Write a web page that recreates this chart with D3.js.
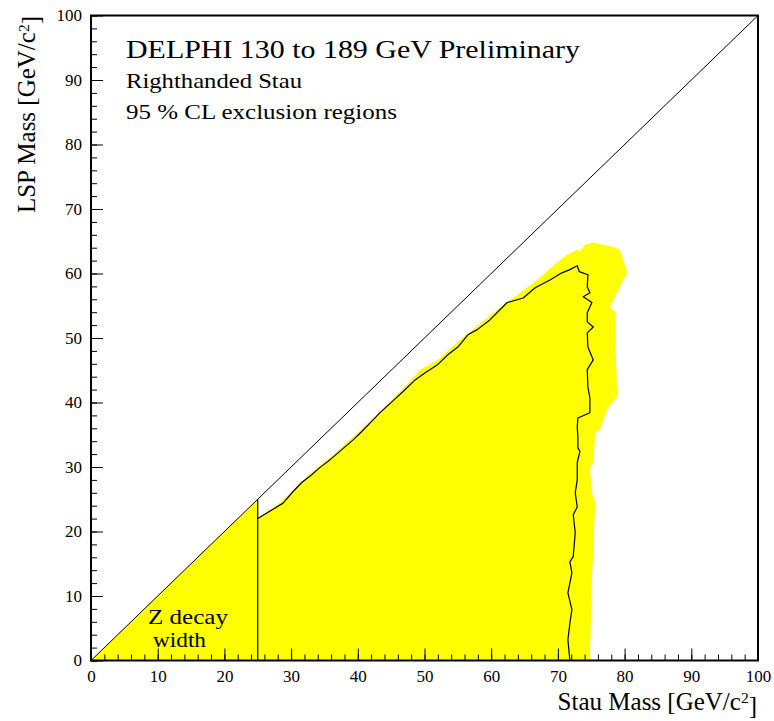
<!DOCTYPE html>
<html>
<head>
<meta charset="utf-8">
<script src="https://cdn.jsdelivr.net/npm/d3@7"></script>
<style>
  html, body { margin: 0; padding: 0; background: #fff; }
  svg { display: block; }
  text { font-family: "Liberation Serif", "DejaVu Serif", serif; fill: #000; }
</style>
</head>
<body>
<svg id="chart" width="774" height="721"></svg>
<script>
// Axis ticks
const xMajorTicks = [0, 10, 20, 30, 40, 50, 60, 70, 80, 90, 100];
const yMajorTicks = [0, 10, 20, 30, 40, 50, 60, 70, 80, 90, 100];
const minorTicks = d3.range(0, 101, 2);

// Z decay width excluded triangle (stau mass, LSP mass)
const zWidthStau = [0, 25, 25];
const zWidthLsp  = [0, 25, 0];

// Outer excluded region (filled)
const regionStau = [25.0, 25.0, 28.5, 30.5, 33.0, 36.0, 37.8, 40.5, 43.5, 46.5, 49.5, 52.0, 55.3, 60.3, 66.9, 70.3, 71.4, 72.9, 73.3, 74.1, 75.3, 78.3, 79.3, 80.4, 79.6, 78.3, 77.8, 78.6, 78.6, 78.9, 77.5, 76.8, 76.3, 75.6, 75.3, 74.8, 75.1, 75.6, 75.3, 75.1, 74.8];
const regionLsp  = [0.0, 22.0, 24.6, 26.6, 29.2, 31.6, 33.3, 35.8, 38.8, 41.9, 45.2, 46.6, 49.7, 53.9, 59.0, 62.1, 62.9, 63.7, 63.4, 64.5, 64.8, 64.1, 63.7, 60.1, 58.6, 55.9, 54.8, 53.9, 49.7, 40.9, 39.2, 37.3, 35.8, 35.3, 30.7, 29.6, 26.0, 24.5, 17.6, 12.5, 0.0];

// 95% CL exclusion contour
const contourStau = [25.0, 28.8, 30.3, 31.6, 33.1, 34.3, 35.8, 37.6, 39.3, 40.6, 42.3, 43.3, 45.1, 46.8, 48.6, 50.1, 51.9, 53.5, 55.0, 56.5, 57.9, 59.8, 62.4, 64.8, 66.6, 68.8, 70.6, 71.8, 72.9, 73.2, 74.5, 74.4, 74.8, 73.8, 75.1, 74.4, 74.4, 75.3, 74.4, 74.5, 75.3, 74.4, 74.5, 74.8, 74.8, 73.0, 72.9, 73.0, 73.0, 73.3, 72.9, 72.9, 72.6, 72.9, 72.3, 72.6, 72.3, 71.8, 72.1, 71.5, 72.1, 71.8, 71.5, 71.8];
const contourLsp  = [22.0, 24.4, 26.2, 27.6, 28.8, 29.9, 31.1, 32.7, 34.2, 35.5, 37.3, 38.4, 40.1, 41.7, 43.5, 44.6, 45.8, 47.4, 48.6, 50.5, 51.3, 52.8, 55.5, 56.2, 57.8, 59.0, 60.1, 60.6, 61.2, 60.3, 59.8, 57.9, 57.0, 56.4, 55.5, 53.9, 52.5, 51.7, 50.8, 48.6, 46.6, 45.1, 42.4, 40.7, 38.4, 37.6, 36.2, 34.7, 33.0, 32.4, 30.7, 28.0, 26.0, 23.8, 22.6, 19.8, 16.1, 15.3, 13.6, 10.5, 7.9, 5.8, 3.2, 0.0];

const svg = d3.select("#chart");
const x = d3.scaleLinear().domain([0, 100]).range([91, 758]);
const y = d3.scaleLinear().domain([0, 100]).range([660.5, 15.5]);

const line = d3.line().x(d => x(d[0])).y(d => y(d[1]));
const zip = (a, b) => a.map((v, i) => [v, b[i]]);

const plot = svg.append("g");

// Filled exclusion regions
plot.append("path")
  .attr("d", line(zip(zWidthStau, zWidthLsp)) + "Z")
  .attr("fill", "#ffff00");
plot.append("path")
  .attr("d", line(zip(regionStau, regionLsp)) + "Z")
  .attr("fill", "#ffff00");

// Kinematic limit m_LSP = m_stau
plot.append("line")
  .attr("x1", x(0)).attr("y1", y(0))
  .attr("x2", x(100)).attr("y2", y(100))
  .attr("stroke", "#000").attr("stroke-width", 1);

// Z width boundary
plot.append("line")
  .attr("x1", x(25)).attr("y1", y(0))
  .attr("x2", x(25)).attr("y2", y(25))
  .attr("stroke", "#000").attr("stroke-width", 1.2);

// Contour
plot.append("path")
  .attr("d", line(zip(contourStau, contourLsp)))
  .attr("fill", "none")
  .attr("stroke", "#000")
  .attr("stroke-width", 1.2)
  .attr("stroke-linejoin", "round");

// Axes: ticks pointing into the frame
const xMinor = d3.axisBottom(x).tickValues(minorTicks).tickSizeInner(-6).tickSizeOuter(0).tickFormat("");
const yMinor = d3.axisLeft(y).tickValues(minorTicks).tickSizeInner(-6).tickSizeOuter(0).tickFormat("");
const xAxis = d3.axisBottom(x).tickValues(xMajorTicks).tickSizeInner(-12).tickSizeOuter(0).tickPadding(9).tickFormat(d3.format("d"));
const yAxis = d3.axisLeft(y).tickValues(yMajorTicks).tickSizeInner(-12).tickSizeOuter(0).tickPadding(9).tickFormat(d3.format("d"));

function styleAxis(g) {
  g.select(".domain").remove();
  g.selectAll(".tick line").attr("stroke", "#000").attr("stroke-width", 1);
  g.selectAll(".tick text").attr("font-family", "Liberation Serif, serif").attr("font-size", 17).attr("fill", "#000");
}

svg.append("g").attr("transform", `translate(0,${y(0)})`).call(xMinor).call(styleAxis);
svg.append("g").attr("transform", `translate(${x(0)},0)`).call(yMinor).call(styleAxis);
svg.append("g").attr("transform", `translate(0,${y(0)})`).call(xAxis).call(styleAxis);
svg.append("g").attr("transform", `translate(${x(0)},0)`).call(yAxis).call(styleAxis);

// Frame
svg.append("rect")
  .attr("x", x(0)).attr("y", y(100))
  .attr("width", x(100) - x(0)).attr("height", y(0) - y(100))
  .attr("fill", "none").attr("stroke", "#000").attr("stroke-width", 2);

// Axis titles
function unitTitle(sel, label) {
  sel.append("tspan").text(label + " [GeV/c");
  sel.append("tspan").attr("dy", "-0.42em").attr("font-size", "0.62em").text("2");
  sel.append("tspan").attr("dy", "0.42em").text("]");
}
svg.append("text")
  .attr("x", 757).attr("y", 710)
  .attr("text-anchor", "end").attr("font-size", 25)
  .call(unitTitle, "Stau Mass");
svg.append("text")
  .attr("transform", "translate(35,16) rotate(-90)")
  .attr("text-anchor", "end").attr("font-size", 25)
  .call(unitTitle, "LSP Mass");

// Header text (wide Times setting)
function wideText(px, py, size, width, str) {
  svg.append("text").attr("x", px).attr("y", py).attr("font-size", size)
    .attr("textLength", width).attr("lengthAdjust", "spacingAndGlyphs")
    .text(str);
}
wideText(126, 58, 26, 454, "DELPHI 130 to 189 GeV Preliminary");
wideText(126, 88, 22, 176, "Righthanded Stau");
wideText(126, 119, 21.5, 271, "95 % CL exclusion regions");

// Region label
wideText(148, 624, 21.5, 80, "Z decay");
wideText(153, 647, 21.5, 53, "width");
</script>
</body>
</html>
